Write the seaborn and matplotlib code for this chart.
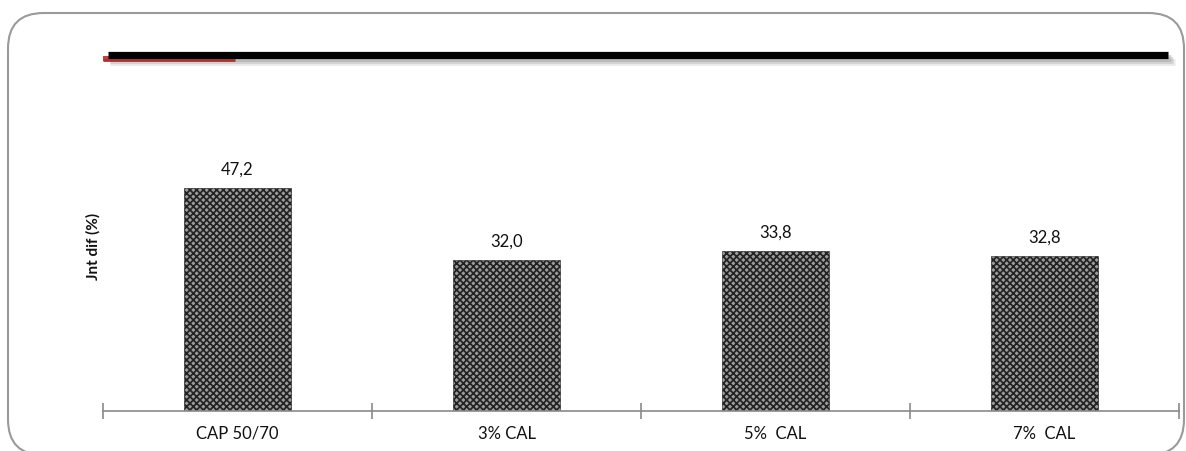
import matplotlib
matplotlib.use("Agg")
import matplotlib.pyplot as plt
from matplotlib.patches import FancyBboxPatch, Rectangle
from matplotlib.lines import Line2D
import seaborn as sns
import pandas as pd

categories = ["CAP 50/70", "3% CAL", "5%  CAL", "7%  CAL"]
values = [47.2, 32.0, 33.8, 32.8]
value_labels = ["47,2", "32,0", "33,8", "32,8"]
y_label = "Jnt dif (%)"

sns.set_theme(style="white")
plt.rcParams["font.family"] = ["Lato", "DejaVu Sans"]
plt.rcParams["hatch.linewidth"] = 1.25
plt.rcParams["hatch.color"] = "black"

W, H = 1186, 452
fig = plt.figure(figsize=(W / 100, H / 100), dpi=100)

# axes placed in pixel terms: baseline at y=412, 4.72 px per unit
x0, x1 = 103, 1179
base = 412
ymax = 70
top = base - ymax * 4.72
ax = fig.add_axes([x0 / W, (H - base) / H, (x1 - x0) / W, (base - top) / H])

df = pd.DataFrame({"cat": categories, "val": values})
sns.barplot(data=df, x="cat", y="val", ax=ax, width=0.4, color="white",
            edgecolor="#222222", linewidth=0.4)
for p in ax.patches:
    p.set_hatch("xxxxx")
    p.set_facecolor("#9c9c9c")

for p, lab in zip(ax.patches, value_labels):
    ax.annotate(lab, (p.get_x() + p.get_width() / 2, p.get_height()),
                xytext=(0, 8.5), textcoords="offset points",
                ha="center", va="bottom", fontsize=12, color="#111111")

ax.set_xlim(-0.5, len(categories) - 0.5)
ax.set_ylim(0, ymax)
ax.set_yticks([])
for s in ["left", "right", "top"]:
    ax.spines[s].set_visible(False)
ax.spines["bottom"].set_color("#8a8a8a")
ax.spines["bottom"].set_linewidth(1.2)

# major ticks at category boundaries, crossing the axis line
ax.set_xticks([i - 0.5 for i in range(len(categories) + 1)])
ax.set_xticklabels([""] * (len(categories) + 1))
ax.tick_params(axis="x", which="major", direction="inout", length=12,
               width=1.2, color="#8a8a8a", bottom=True)
ax.set_xticks(range(len(categories)), minor=True)
ax.set_xticklabels(categories, minor=True, fontsize=12, color="#111111")
ax.tick_params(axis="x", which="minor", direction="out", length=0, pad=10,
               bottom=True)
ax.set_xlabel("")
ax.set_ylabel(y_label, fontsize=11, fontweight="bold", color="#111111")
ax.yaxis.set_label_coords(-0.002, 0.5)

# rounded frame around the chart
frame = FancyBboxPatch((8 / W, 1 - 456 / H), (1184 - 8) / W, (456 - 14) / H,
                       boxstyle="round,pad=0,rounding_size=0.03",
                       transform=fig.transFigure, fill=False,
                       edgecolor="#9a9a9a", linewidth=1.5,
                       mutation_aspect=W / H)
fig.add_artist(frame)

# heavy rule near the top with a soft shadow and a red accent
def fy(py):
    return 1 - py / H

for off, a in [(7, 0.2), (5, 0.3), (3, 0.4)]:
    fig.add_artist(Line2D([110 / W, (1168 + off) / W], [fy(56 + off), fy(56 + off)],
                          color="#999999", linewidth=5, alpha=a,
                          solid_capstyle="butt"))
fig.add_artist(Line2D([103 / W, 235 / W], [fy(60.5), fy(60.5)], color="#b03030",
                      linewidth=2.0, solid_capstyle="butt"))
fig.add_artist(Rectangle((103 / W, fy(62)), 6 / W, 5 / H, transform=fig.transFigure,
                         facecolor="#c04040", edgecolor="none"))
fig.add_artist(Line2D([108 / W, 1168 / W], [fy(56), fy(56)], color="black",
                      linewidth=5.2, solid_capstyle="butt"))

fig.savefig("out.png", dpi=100, facecolor="white")
